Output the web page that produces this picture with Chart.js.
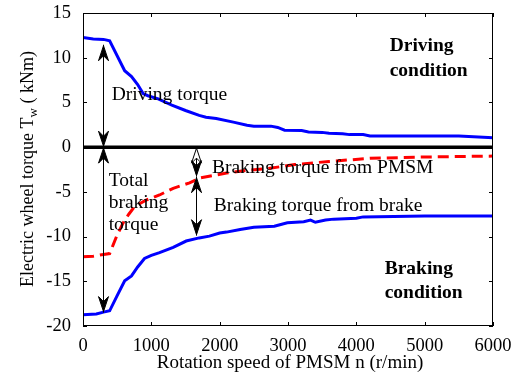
<!DOCTYPE html>
<html>
<head>
<meta charset="utf-8">
<script src="https://cdn.jsdelivr.net/npm/chart.js@4.4.1/dist/chart.umd.min.js"></script>
<style>
  html, body { margin: 0; padding: 0; background: #fff; }
  #wrap { width: 522px; height: 379px; }
</style>
</head>
<body>
<div id="wrap"><canvas id="c" width="522" height="379"></canvas></div>
<script>
// Rotation speed of PMSM (r/min) and wheel torque (kNm)
const driveSpeed  = [0, 150, 300, 390, 610, 710, 800, 880, 950, 1100, 1300, 1500, 1700, 1800, 1950, 2200, 2400, 2500, 2750, 2850, 2950, 3200, 3300, 3500, 3600, 3800, 3900, 4100, 4200, 5500, 6000];
const driveTorque = [12.25, 12.1, 12.05, 11.9, 8.55, 7.9, 7.0, 6.0, 5.75, 5.4, 4.7, 4.1, 3.55, 3.35, 3.2, 2.8, 2.45, 2.35, 2.35, 2.2, 1.9, 1.85, 1.7, 1.65, 1.55, 1.5, 1.4, 1.4, 1.25, 1.25, 1.05];

const pmsmSpeed  = [0, 150, 300, 390, 490, 585, 670, 760, 930, 1120, 1320, 1560, 1710, 2100, 2400, 2700, 3100, 3600, 4200, 5000, 6000];
const pmsmTorque = [-12.25, -12.2, -12.0, -11.9, -10.0, -8.5, -7.5, -6.6, -5.9, -5.35, -4.6, -4.0, -3.45, -2.9, -2.6, -2.4, -1.95, -1.6, -1.25, -1.1, -1.0];

const totalSpeed  = [0, 195, 300, 390, 500, 610, 710, 800, 900, 1000, 1120, 1320, 1510, 1700, 1850, 2000, 2100, 2300, 2500, 2800, 2990, 3230, 3330, 3400, 3550, 3670, 4000, 4100, 5000, 6000];
const totalTorque = [-18.75, -18.65, -18.45, -18.3, -16.6, -14.95, -14.4, -13.4, -12.45, -12.1, -11.8, -11.2, -10.5, -10.15, -9.95, -9.6, -9.5, -9.2, -8.95, -8.85, -8.45, -8.35, -8.15, -8.4, -8.15, -8.05, -7.95, -7.8, -7.7, -7.7];

const zeroSpeed  = [0, 6000];
const zeroTorque = [0, 0];

const xTicks = [0, 1000, 2000, 3000, 4000, 5000, 6000];
const yTicks = [-20, -15, -10, -5, 0, 5, 10, 15];

// Double-headed arrows [speed, torque from, torque to]
const arrowSpeed = [293, 293, 1660, 1660];
const arrowFrom  = [11.45, 0, 0, -3.3];
const arrowTo    = [0, -18.5, -3.3, -9.9];

// Annotation texts with anchor (speed, torque) at left baseline
const noteText   = ['Driving torque', 'Total', 'braking', 'torque', 'Braking torque from PMSM', 'Braking torque from brake'];
const noteSpeed  = [420, 376, 376, 376, 1886, 1915];
const noteTorque = [5.3, -4.3, -6.85, -9.3, -2.86, -7.19];

const boldText   = ['Driving', 'condition', 'Braking', 'condition'];
const boldSpeed  = [4488, 4488, 4415, 4415];
const boldTorque = [10.7, 8.0, -14.17, -16.85];

const pts = (xs, ys) => xs.map((x, i) => ({ x: x, y: ys[i] }));
const SERIF = '"Liberation Serif", "Times New Roman", serif';

const decor = {
  id: 'decor',
  afterDatasetsDraw(chart) {
    const ctx = chart.ctx;
    const xs = chart.scales.x, ys = chart.scales.y;
    const a = chart.chartArea;
    ctx.save();
    // frame
    ctx.strokeStyle = '#000';
    ctx.lineWidth = 1;
    ctx.strokeRect(a.left + 0.5, a.top + 0.5, a.right - a.left - 1, a.bottom - a.top - 1);
    // inward ticks on all sides
    ctx.beginPath();
    xTicks.forEach(v => {
      const px = Math.round(xs.getPixelForValue(v)) + 0.5;
      ctx.moveTo(px, a.bottom); ctx.lineTo(px, a.bottom - 4);
      ctx.moveTo(px, a.top); ctx.lineTo(px, a.top + 4);
    });
    yTicks.forEach(v => {
      const py = Math.round(ys.getPixelForValue(v)) + 0.5;
      ctx.moveTo(a.left, py); ctx.lineTo(a.left + 4, py);
      ctx.moveTo(a.right, py); ctx.lineTo(a.right - 4, py);
    });
    ctx.stroke();

    // arrows
    const head = (x, tipY, dir, hollow) => {
      // dir = -1 points up, +1 points down
      const L = 15, W = 5, N = 10;
      ctx.beginPath();
      ctx.moveTo(x, tipY);
      ctx.lineTo(x - W, tipY - dir * L);
      ctx.lineTo(x, tipY - dir * N);
      ctx.lineTo(x + W, tipY - dir * L);
      ctx.closePath();
      ctx.fillStyle = hollow ? '#fff' : '#000';
      ctx.fill();
      ctx.lineWidth = 1;
      ctx.stroke();
    };
    arrowSpeed.forEach((s, i) => {
      const x = Math.round(xs.getPixelForValue(s)) + 0.5;
      const y1 = ys.getPixelForValue(arrowFrom[i]);
      const y2 = ys.getPixelForValue(arrowTo[i]);
      ctx.strokeStyle = '#000';
      ctx.lineWidth = 1;
      ctx.beginPath(); ctx.moveTo(x, y1); ctx.lineTo(x, y2); ctx.stroke();
      head(x, y1 + 1, -1, i === 2);
      head(x, y2 - 1, 1, false);
    });

    // annotation texts
    ctx.fillStyle = '#000';
    ctx.textAlign = 'left';
    ctx.textBaseline = 'alphabetic';
    ctx.font = '19.5px ' + SERIF;
    noteText.forEach((t, i) => {
      ctx.fillText(t, xs.getPixelForValue(noteSpeed[i]), ys.getPixelForValue(noteTorque[i]));
    });
    ctx.font = 'bold 19.5px ' + SERIF;
    boldText.forEach((t, i) => {
      ctx.fillText(t, xs.getPixelForValue(boldSpeed[i]), ys.getPixelForValue(boldTorque[i]));
    });

    // x axis title
    ctx.font = '19px ' + SERIF;
    ctx.textAlign = 'center';
    ctx.fillText('Rotation speed of PMSM n (r/min)', (a.left + a.right) / 2 + 2, 368);

    // y axis title with subscript
    ctx.translate(33, 169);
    ctx.rotate(-Math.PI / 2);
    const p1 = 'Electric wheel torque T', sub = 'w', p2 = ' ( kNm)';
    ctx.font = '18px ' + SERIF;
    const w1 = ctx.measureText(p1).width, w3 = ctx.measureText(p2).width;
    ctx.font = '13px ' + SERIF;
    const w2 = ctx.measureText(sub).width;
    let x0 = -(w1 + w2 + w3) / 2;
    ctx.textAlign = 'left';
    ctx.font = '18px ' + SERIF;
    ctx.fillText(p1, x0, 0);
    ctx.font = '13px ' + SERIF;
    ctx.fillText(sub, x0 + w1, 4);
    ctx.font = '18px ' + SERIF;
    ctx.fillText(p2, x0 + w1 + w2, 0);
    ctx.restore();
  }
};

new Chart(document.getElementById('c'), {
  type: 'line',
  data: {
    datasets: [
      { data: pts(driveSpeed, driveTorque), borderColor: '#0000ff', borderWidth: 3, pointRadius: 0, tension: 0, fill: false },
      { data: pts(pmsmSpeed, pmsmTorque), borderColor: '#ff0000', borderWidth: 3, borderDash: [11, 6], pointRadius: 0, tension: 0, fill: false },
      { data: pts(totalSpeed, totalTorque), borderColor: '#0000ff', borderWidth: 3, pointRadius: 0, tension: 0, fill: false },
      { data: pts(zeroSpeed, zeroTorque), borderColor: '#000', borderWidth: 3.5, pointRadius: 0, fill: false }
    ]
  },
  options: {
    responsive: false,
    animation: false,
    events: [],
    layout: { padding: { left: 0, top: 13, right: 29, bottom: 0 } },
    plugins: { legend: { display: false }, tooltip: { enabled: false }, title: { display: false } },
    scales: {
      x: {
        type: 'linear', min: 0, max: 6000,
        afterBuildTicks: s => { s.ticks = xTicks.map(v => ({ value: v })); },
        afterFit: s => { s.height = 53; s.paddingLeft = 0; s.paddingRight = 0; },
        grid: { display: false },
        border: { display: false },
        ticks: { color: '#000', font: { family: SERIF, size: 18.5 }, padding: 1, maxRotation: 0, callback: v => String(v) }
      },
      y: {
        type: 'linear', min: -20, max: 15,
        afterBuildTicks: s => { s.ticks = yTicks.map(v => ({ value: v })); },
        afterFit: s => { s.width = 83; s.paddingTop = 0; s.paddingBottom = 0; },
        grid: { display: false },
        border: { display: false },
        ticks: { color: '#000', font: { family: SERIF, size: 18.5 }, padding: 4, callback: v => String(v) }
      }
    }
  },
  plugins: [decor]
});
</script>
</body>
</html>
